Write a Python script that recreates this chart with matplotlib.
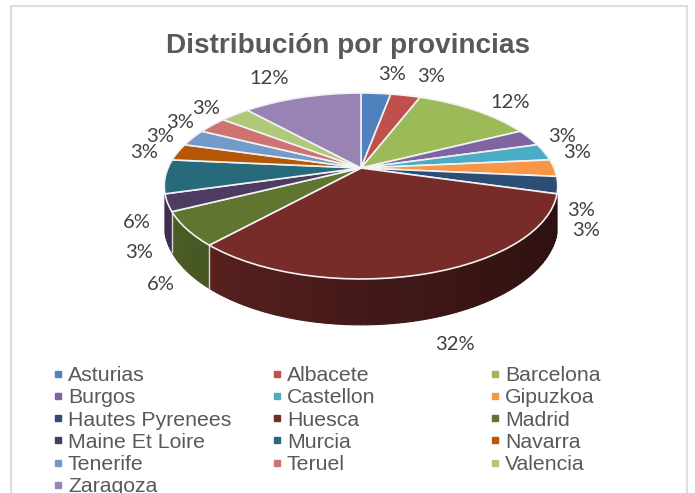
import numpy as np
import matplotlib
matplotlib.use("Agg")
import matplotlib.pyplot as plt
from matplotlib.colors import to_rgb
from matplotlib.lines import Line2D
from matplotlib.patches import Rectangle
from matplotlib.transforms import Transform

provinces = ["Asturias", "Albacete", "Barcelona", "Burgos", "Castellon", "Gipuzkoa",
             "Hautes Pyrenees", "Huesca", "Madrid", "Maine Et Loire", "Murcia", "Navarra",
             "Tenerife", "Teruel", "Valencia", "Zaragoza"]
counts = [1, 1, 4, 1, 1, 1, 1, 11, 2, 1, 2, 1, 1, 1, 1, 4]
colors = ["#4F81BD", "#C0504D", "#9BBB59", "#8064A2", "#4BACC6", "#F79646",
          "#2C4D75", "#772C2A", "#5F7530", "#4D3B62", "#276A7C", "#B65708",
          "#729ACA", "#CD7371", "#AFC97A", "#9983B5"]

# where Excel left the percentage labels (pixels)
label_xy = [(392, 74), (431, 77), (510, 102), (562, 136), (577, 153), (581, 211),
            (586, 230), (455, 345), (161, 284), (139, 253), (137, 222), (144, 153),
            (160, 136), (180, 122), (206, 108), (269, 79)]

# fake 3D tilt, fitted on the rim of the pie
CX, CY = 361, 168
A, B, K = 193, 89.5, 0.1935
DEPTH = 37
# the wall only shows on these slices
walled = ["Huesca", "Madrid", "Maine Et Loire"]
# legend columns: left edge in pixels
col_x = [52, 271, 489]
LEG_TOP = 366
N_ROWS = 6


class Tilt(Transform):
    input_dims = 2
    output_dims = 2

    def transform_non_affine(self, xy):
        xy = np.asarray(xy, dtype=float)
        w = 1 + K * xy[:, 1]
        return np.column_stack([CX + A * xy[:, 0] / w, CY - B * xy[:, 1] / w])


def rim(theta):
    x, y = np.cos(theta), np.sin(theta)
    w = 1 + K * y
    return CX + A * x / w, CY - B * y / w, DEPTH / w


fig = plt.figure(figsize=(6.95, 4.93), dpi=100)
ax = fig.add_axes([0, 0, 1, 1])

wedges, _ = ax.pie(counts, colors=colors, startangle=90, counterclock=False,
                   wedgeprops=dict(edgecolor="#f2f2f2", linewidth=1.2, zorder=5))
tilt = Tilt() + ax.transData
for w in wedges:
    w.set_transform(tilt)

# outer wall, cut in thin slices so the shade can run from left to right
total = sum(counts)
ends = 90 - np.cumsum(counts) / total * 360
starts = np.r_[90, ends[:-1]]
for name, a0, a1, col in zip(provinces, starts, ends, colors):
    if name not in walled:
        continue
    n = max(int((a0 - a1) / 1.5), 1)
    edges = np.radians(np.linspace(a1, a0, n + 1))
    base = np.array(to_rgb(col))
    for t0, t1 in zip(edges[:-1], edges[1:]):
        x, y, d = rim(np.linspace(t0, t1, 4))
        shade = np.interp(np.cos((t0 + t1) / 2), [-1, 0, 1], [0.82, 0.57, 0.37])
        c = tuple(base * shade)
        ax.fill(np.r_[x, x[::-1]], np.r_[y, (y + d)[::-1]], facecolor=c, edgecolor=c,
                lw=0.8, zorder=2)
for a in ends[7:9]:
    x, y, d = rim(np.radians([a]))
    ax.plot([x[0], x[0]], [y[0], y[0] + d[0]], color="#d8d8d8", lw=1.0, zorder=3)

for n, (lx, ly) in zip(counts, label_xy):
    ax.text(lx, ly, f"{n / total:.0%}", ha="center", va="center", fontsize=14.5,
            family="Lato", color="#404040", zorder=6)

ax.text(348.5, 46, "Distribución por provincias", ha="center", va="center", fontsize=20.1,
        fontweight="bold", family="Liberation Sans", color="#595959")

ax.add_patch(Rectangle((11, 6), 676, 500, fill=False, edgecolor="#dedede", lw=1.6))

# row by row like Excel, one legend per column so the columns sit at equal steps
for c, lx in enumerate(col_x):
    idx = list(range(c, len(provinces), 3))[:N_ROWS]
    handles = [Line2D([], [], ls="", marker="s", ms=4.2, color=colors[i]) for i in idx]
    leg = ax.legend(handles, [provinces[i] for i in idx], frameon=False,
                    loc="upper left", bbox_to_anchor=(lx / 695, 1 - LEG_TOP / 493),
                    borderaxespad=0, borderpad=0, handlelength=0.55, handletextpad=0.2,
                    labelspacing=0.155, labelcolor="#595959",
                    prop=dict(family="Liberation Sans", size=15.3))
    if c < len(col_x) - 1:
        ax.add_artist(leg)

ax.set_aspect("auto")
ax.set_xlim(0, 695)
ax.set_ylim(493, 0)
ax.axis("off")

fig.savefig("out.png", dpi=100)
